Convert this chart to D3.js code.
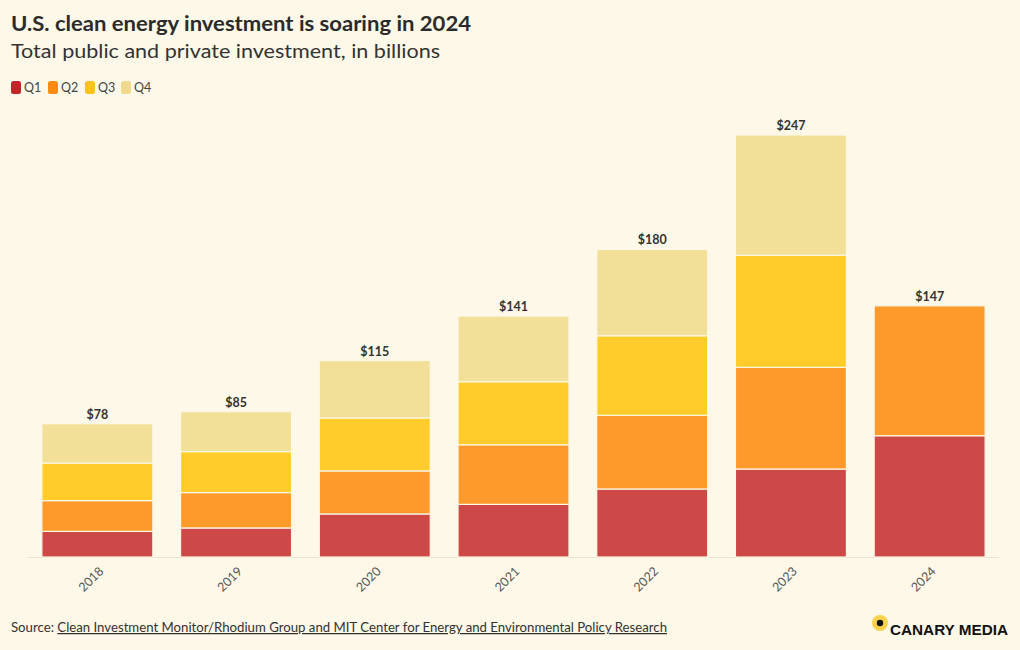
<!DOCTYPE html>
<html><head><meta charset="utf-8">
<script src="https://cdn.jsdelivr.net/npm/d3@7"></script>
<style>
html,body{margin:0;padding:0;background:#fdf8e7;}
svg{display:block;}
</style></head>
<body>
<svg id="chart" width="1020" height="650"></svg>
<script>
const years = ["2018","2019","2020","2021","2022","2023","2024"];
const quarters = ["Q1","Q2","Q3","Q4"];
const q1 = [15, 17, 25.2, 30.8, 39.8, 51.5, 71];
const q2 = [18, 20.7, 25.2, 34.9, 43.1, 59.5, 76];
const q3 = [22, 24, 31, 36.9, 46.6, 65.6, 0];
const q4 = [23, 23.3, 33.6, 38.4, 50.5, 70.4, 0];
const totalLabels = ["$78","$85","$115","$141","$180","$247","$147"];
const barColors = ["#cc4947","#fd9a2b","#ffcc2b","#f2df98"];
const legendColors = ["#c1262b","#fb8c13","#fdc21a","#efd98d"];

const svg = d3.select("#chart");
const W = 1020, H = 650;
svg.append("rect").attr("width",W).attr("height",H).attr("fill","#fdf8e7");

const font = "Lato, 'Open Sans', sans-serif";

svg.append("text").attr("x",11).attr("y",31).text("U.S. clean energy investment is soaring in 2024")
  .attr("font-family",font).attr("font-weight",700).attr("font-size",21).attr("fill","#2b2b2b")
  .attr("textLength",460).attr("lengthAdjust","spacingAndGlyphs");
svg.append("text").attr("x",11).attr("y",58).text("Total public and private investment, in billions")
  .attr("font-family",font).attr("font-size",19.5).attr("fill","#333")
  .attr("textLength",429).attr("lengthAdjust","spacingAndGlyphs");

// legend
const leg = svg.append("g");
const legX = [11, 48, 85, 121];
quarters.forEach((q,i)=>{
  leg.append("rect").attr("x",legX[i]).attr("y",81).attr("width",10).attr("height",13).attr("rx",2.5)
    .attr("fill",legendColors[i]);
  leg.append("text").attr("x",legX[i]+13).attr("y",92).text(q)
    .attr("font-family",font).attr("font-size",12.5).attr("fill","#444");
});

const data = years.map((y,i)=>({year:y, Q1:q1[i], Q2:q2[i], Q3:q3[i], Q4:q4[i], label: totalLabels[i]}));
const stack = d3.stack().keys(quarters)(data);

const x = d3.scaleBand().domain(years).range([28, 999]).paddingInner(0.2).paddingOuter(0.1);
const y = d3.scaleLinear().domain([0, 260]).range([557, 557 - 260*1.7085]);

// baseline
svg.append("line").attr("x1",28).attr("x2",999).attr("y1",y(0)+0.5).attr("y2",y(0)+0.5)
  .attr("stroke","#e8e2d0").attr("stroke-width",1);

const layers = svg.append("g").selectAll("g").data(stack).join("g")
  .attr("fill",(d,i)=>barColors[i]);
layers.selectAll("rect").data(d=>d).join("rect")
  .attr("x",d=>x(d.data.year))
  .attr("width",x.bandwidth())
  .attr("y",d=>y(d[1]))
  .attr("height",d=>Math.max(0, y(d[0]) - y(d[1])))
  .attr("stroke","#fdf8e7").attr("stroke-width",d=> (d[1]-d[0])>0 ? 1.2 : 0);

// totals
svg.append("g").selectAll("text").data(data).join("text")
  .attr("x",d=>x(d.year)+x.bandwidth()/2)
  .attr("y",d=>y(d.Q1+d.Q2+d.Q3+d.Q4)-5)
  .attr("text-anchor","middle")
  .attr("font-family",font).attr("font-weight",700).attr("font-size",12.5).attr("fill","#333")
  .text(d=>d.label);

// x axis
const xAxis = svg.append("g").attr("transform",`translate(0,${y(0)})`)
  .call(d3.axisBottom(x).tickSize(0).tickPadding(0));
xAxis.select(".domain").remove();
xAxis.selectAll("text")
  .attr("font-family",font).attr("font-size",12.5).attr("fill","#555")
  .attr("text-anchor","end").attr("dy","0")
  .attr("transform","translate(7,15) rotate(-45)");

// source
const src = svg.append("text").attr("x",11).attr("y",632)
  .attr("font-family",font).attr("font-size",12.5).attr("fill","#333")
  .attr("textLength",656).attr("lengthAdjust","spacingAndGlyphs");
src.append("tspan").text("Source: ");
src.append("tspan").attr("text-decoration","underline")
  .text("Clean Investment Monitor/Rhodium Group and MIT Center for Energy and Environmental Policy Research");

// logo
svg.append("circle").attr("cx",880).attr("cy",623).attr("r",8).attr("fill","#f7d24a");
svg.append("circle").attr("cx",880).attr("cy",623).attr("r",3.2).attr("fill","#111");
svg.append("text").attr("x",890).attr("y",635).text("CANARY MEDIA")
  .attr("font-family","'Liberation Sans', Arial, sans-serif").attr("font-weight",700)
  .attr("font-size",14.5).attr("fill","#111").attr("textLength",118).attr("lengthAdjust","spacingAndGlyphs");
</script>
</body></html>
